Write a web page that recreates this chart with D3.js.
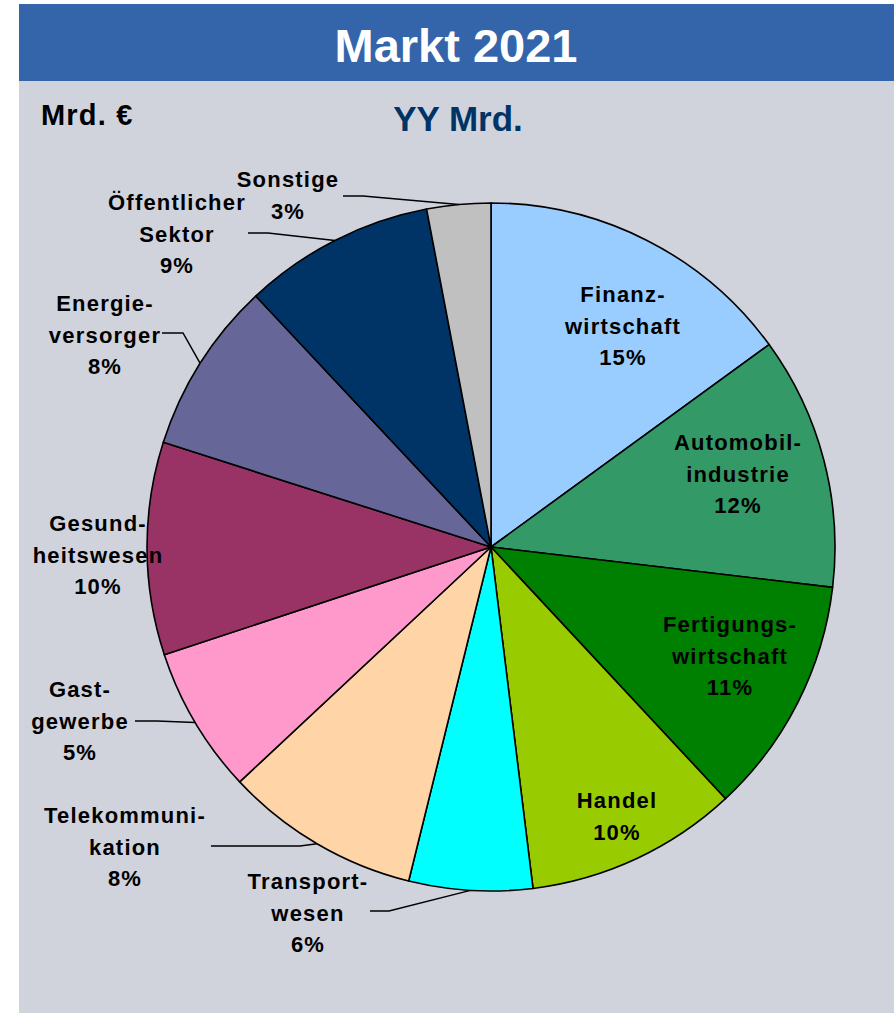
<!DOCTYPE html>
<html>
<head>
<meta charset="utf-8">
<script src="https://cdn.jsdelivr.net/npm/d3@7"></script>
<style>
  body { margin: 0; background: #fff; }
  text { font-family: "Liberation Sans", Arial, sans-serif; font-weight: bold; }
</style>
</head>
<body>
<div id="chart"></div>
<script>
// Data (slice shares, %)
var sectors = ["Finanzwirtschaft", "Automobilindustrie", "Fertigungswirtschaft", "Handel",
    "Transportwesen", "Telekommunikation", "Gastgewerbe", "Gesundheitswesen",
    "Energieversorger", "Öffentlicher Sektor", "Sonstige"];
var shares = [15.0, 11.9, 11.2, 10.0, 5.8, 9.2, 6.9, 10.0, 8.1, 9.0, 3.0];
var labelLines = [
    ["Finanz-", "wirtschaft"], ["Automobil-", "industrie"], ["Fertigungs-", "wirtschaft"],
    ["Handel"], ["Transport-", "wesen"], ["Telekommuni-", "kation"], ["Gast-", "gewerbe"],
    ["Gesund-", "heitswesen"], ["Energie-", "versorger"], ["Öffentlicher", "Sektor"], ["Sonstige"]
];
var pctLabels = ["15%", "12%", "11%", "10%", "6%", "8%", "5%", "10%", "8%", "9%", "3%"];
var colors = ["#99CCFF", "#339966", "#008000", "#99CC00", "#00FFFF", "#FFD5A8",
    "#FF99CC", "#993366", "#666699", "#003366", "#C0C0C0"];

var svgWidth = 894;
var svgHeight = 1013;

// label layout: [x centre, first baseline] and optional leader [startX, y, elbowX]
var labelPos = [[623, 302], [738, 450], [730, 632], [617, 808], [308, 889], [125, 823],
    [80, 697], [98, 531], [105, 311], [177, 210], [288, 187]];
var leaders = [null, null, null, null, [370, 911, 389], [211, 846, 300], [135, 721, 157],
    null, [162, 333, 183], [248, 233, 268], [343, 196, 363]];

var cx = 491, cy = 547, radius = 344;

var svg = d3.select("#chart")
    .append("svg")
    .attr("width", svgWidth)
    .attr("height", svgHeight);

// panel background and header
svg.append("rect")
    .attr("x", 19).attr("y", 80)
    .attr("width", svgWidth - 19).attr("height", svgHeight - 80)
    .attr("fill", "#D0D3DC");

svg.append("rect")
    .attr("x", 19).attr("y", 4)
    .attr("width", svgWidth - 19).attr("height", 77)
    .attr("fill", "#3465AB");

svg.append("text")
    .attr("x", 456).attr("y", 62)
    .attr("text-anchor", "middle")
    .attr("fill", "#fff")
    .style("font-size", "47px")
    .text("Markt 2021");

svg.append("text")
    .attr("x", 41).attr("y", 125)
    .style("font-size", "29px")
    .style("letter-spacing", "1.2px")
    .text("Mrd. €");

svg.append("text")
    .attr("x", 458).attr("y", 131)
    .attr("text-anchor", "middle")
    .attr("fill", "#003366")
    .style("font-size", "35px")
    .text("YY Mrd.");

// pie
var pie = d3.pie().sort(null).value(d => d);
var arcs = pie(shares);
var arc = d3.arc().innerRadius(0).outerRadius(radius);

var pieGroup = svg.append("g")
    .attr("transform", `translate(${cx}, ${cy})`);

pieGroup.selectAll("path")
    .data(arcs)
    .enter()
    .append("path")
    .attr("d", arc)
    .attr("fill", (d, i) => colors[i])
    .attr("stroke", "#000")
    .attr("stroke-width", 1.6)
    .attr("stroke-linejoin", "round");

// leader lines to the outer edge at the slice middle
arcs.forEach(function (d, i) {
    var l = leaders[i];
    if (!l) return;
    var mid = (d.startAngle + d.endAngle) / 2;
    var ex = cx + radius * Math.sin(mid);
    var ey = cy - radius * Math.cos(mid);
    svg.append("path")
        .attr("d", d3.line()([[l[0], l[1]], [l[2], l[1]], [ex, ey]]))
        .attr("fill", "none")
        .attr("stroke", "#000")
        .attr("stroke-width", 1.5);
});

// labels
var lineH = 31.5;
labelLines.forEach(function (lines, i) {
    var t = svg.append("text")
        .attr("text-anchor", "middle")
        .style("font-size", "22px")
        .style("letter-spacing", "1.2px");
    lines.concat([pctLabels[i]]).forEach(function (s, j) {
        t.append("tspan")
            .attr("x", labelPos[i][0])
            .attr("y", labelPos[i][1] + j * lineH)
            .text(s);
    });
});
</script>
</body>
</html>
